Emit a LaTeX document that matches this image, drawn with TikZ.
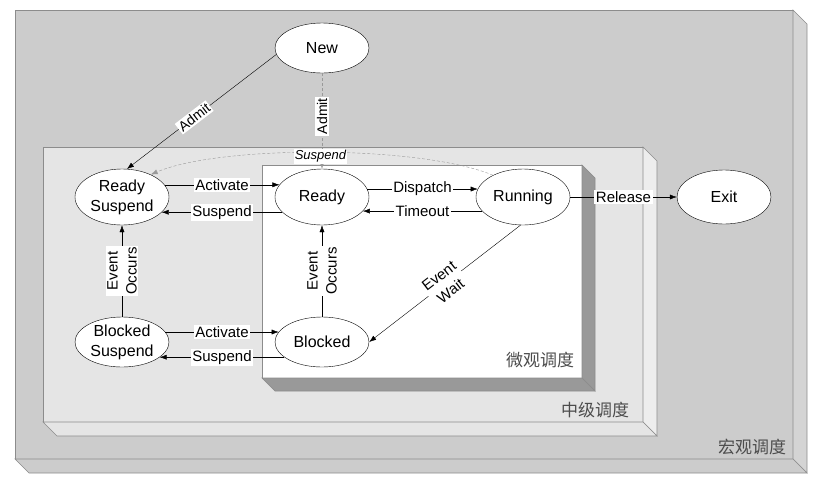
\documentclass[tikz,border=0pt]{standalone}
\usepackage{fontspec}
\setmainfont{Liberation Sans}
\newfontfamily\cjkfont{Noto Sans CJK SC}
\usetikzlibrary{shapes,arrows.meta,positioning}

\tikzset{
  state/.style={ellipse, draw, fill=white, minimum width=94pt, minimum height=56pt,
    inner sep=0pt, align=center, font=\fontsize{16}{20}\selectfont},
  lbl/.style={fill=white, inner sep=1.5pt, align=center, font=\fontsize{15}{19}\selectfont},
  dashtrans/.style={->, densely dashed, black!40},
  face/.style={draw=black!45, line width=0.6pt},
  zone/.style={font=\cjkfont\fontsize{17}{20}\selectfont, text=black!70},
}

\begin{document}
\begin{tikzpicture}[x=1pt, y=-1pt, >={Latex[length=7pt,width=5pt]}]
    \useasboundingbox (0,0) rectangle (825,488);
    % macro level box
    \draw[face, fill=black!20] (15,10) rectangle (793,459);
    \draw[face, fill=black!17] (793,10) -- (807,24) -- (807,473) -- (793,459) -- cycle;
    \draw[face, fill=black!20] (15,459) -- (793,459) -- (807,473) -- (29,473) -- cycle;
    % medium level box
    \draw[face, fill=black!10] (43,147) rectangle (643,422);
    \draw[face, fill=black!7] (643,147) -- (657,161) -- (657,436) -- (643,422) -- cycle;
    \draw[face, fill=black!10] (43,422) -- (643,422) -- (657,436) -- (57,436) -- cycle;
    % micro level box
    \draw[face, fill=white] (262,165) rectangle (582,378);
    \draw[face, fill=black!40] (582,165) -- (595,178) -- (595,391) -- (582,378) -- cycle;
    \draw[face, fill=black!40] (262,378) -- (582,378) -- (595,391) -- (275,391) -- cycle;

    \node[zone] (micro) at (540,360) {微观调度};
    \node[zone] (medium) at (595,410) {中级调度};
    \node[zone] (macro) at (752,447) {宏观调度};

    % states
    \node[state, minimum height=50pt] (new) at (322,48) {New};
    \node[state] (rs) at (122,197) {Ready\\Suspend};
    \node[state] (rdy) at (322,197) {Ready};
    \node[state] (run) at (523,197) {Running};
    \node[state, minimum height=54pt] (exit) at (724,197) {Exit};
    \node[state, minimum height=50pt] (bs) at (122,342) {Blocked\\Suspend};
    \node[state, minimum height=50pt] (blk) at (322,342) {Blocked};

    % transitions
    \draw[->] (new.188) -- node[lbl, sloped, pos=0.55, font=\fontsize{14}{16}\selectfont] {Admit} (rs.80);
    \draw[dashtrans] (new.south) -- node[lbl, rotate=90, pos=0.45, text=black, font=\fontsize{14}{16}\selectfont] {Admit} (rdy.north);
    \draw[dashtrans] (run.144) .. controls (420,145) and (220,145) .. node[lbl, yshift=-4pt, inner sep=1pt, text=black, font=\itshape\fontsize{13}{15}\selectfont] {Suspend} (rs.38);
    \draw[->] (rs.16) -- node[lbl] {Activate} (rdy.164);
    \draw[->] (rdy.-159) -- node[lbl] {Suspend} (rs.-21);
    \draw[->] (rdy.10) -- node[lbl] {Dispatch} (run.170);
    \draw[->] (run.-161) -- node[lbl] {Timeout} (rdy.-19);
    \draw[->] (run.east) -- node[lbl] {Release} (exit.west);
    \draw[->] (bs.north) -- node[lbl, rotate=90] {Event\\Occurs} (rs.south);
    \draw[->] (blk.north) -- node[lbl, rotate=90] {Event\\Occurs} (rdy.south);
    \draw[->] (bs.13) -- node[lbl] {Activate} (blk.167);
    \draw[->] (blk.-158) -- node[lbl] {Suspend} (bs.-22);
    \draw[->] (run.-95) -- node[lbl, sloped] {Event\\Wait} (blk.east);
\end{tikzpicture}
\end{document}
